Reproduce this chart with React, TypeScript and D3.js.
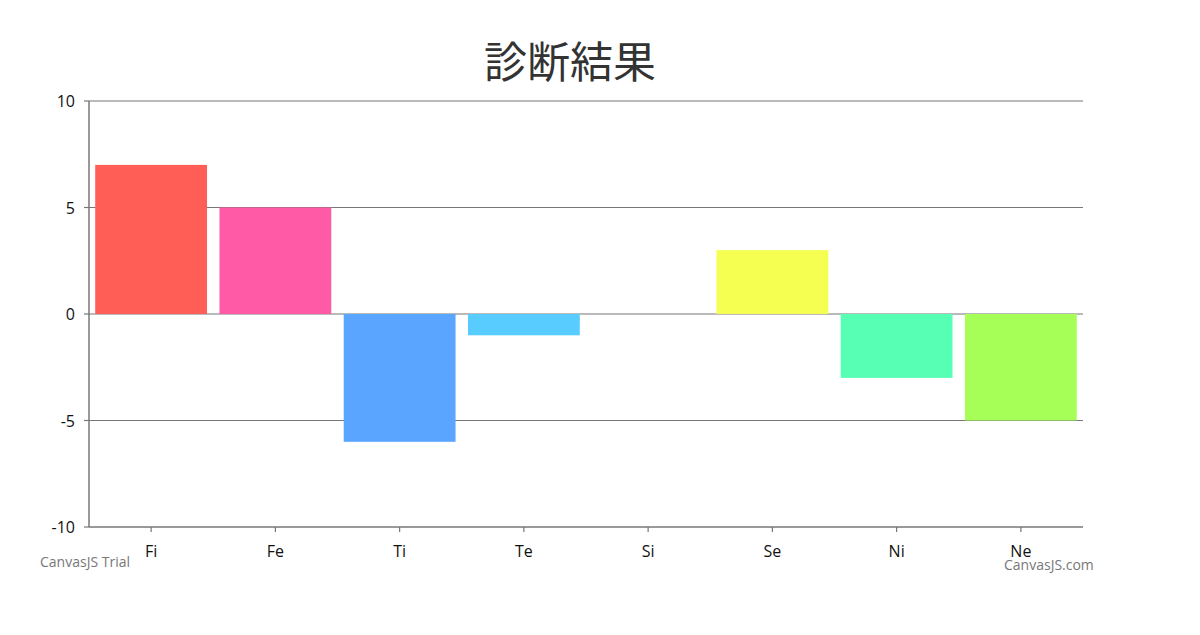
import React from "react";
import * as d3 from "d3";

const categories = ["Fi", "Fe", "Ti", "Te", "Si", "Se", "Ni", "Ne"];
const values = [7, 5, -6, -1, 0, 3, -3, -5];
const colors = ["#FF5E57", "#FF5AA5", "#59A5FF", "#59CCFF", "#C8C8C8", "#F5FF52", "#57FFB5", "#A5FF57"];
const yTicks = [-10, -5, 0, 5, 10];
const title = "診断結果";

const W = 1200, H = 635;
const left = 89, right = 1083, top = 101, bottom = 527;

export default function App() {
  const x = d3.scaleBand<string>().domain(categories).range([left, right]).paddingInner(0.1).paddingOuter(0.05);
  const y = d3.scaleLinear().domain([-10, 10]).range([bottom, top]);
  const font = "'Noto Sans CJK JP', 'Open Sans', sans-serif";
  return (
    <svg width={W} height={H} style={{ position: "absolute", left: 0, top: 0, background: "#fff" }}>
      <text x={570} y={78} textAnchor="middle" fontSize={43} fill="#333" fontFamily={font}>{title}</text>
      {yTicks.map((t) => (
        <g key={t}>
          {t !== -10 && <line x1={left} x2={right} y1={y(t)} y2={y(t)} stroke="#777" strokeWidth={1.2} />}
          <line x1={left - 5} x2={left} y1={y(t)} y2={y(t)} stroke="#777" strokeWidth={1.2} />
          <text x={left - 14} y={y(t) + 6} textAnchor="end" fontSize={16} fill="#111" fontFamily="'Open Sans', sans-serif">{t}</text>
        </g>
      ))}
      {categories.map((c, i) => {
        const v = values[i];
        if (v === 0) return null;
        const y0 = y(0), y1 = y(v);
        return (
          <rect key={c} x={x(c)!} width={x.bandwidth()} y={Math.min(y0, y1)} height={Math.abs(y1 - y0)} fill={colors[i]} />
        );
      })}
      <line x1={left} x2={left} y1={top} y2={bottom} stroke="#777" strokeWidth={1.5} />
      <line x1={left} x2={right} y1={bottom} y2={bottom} stroke="#777" strokeWidth={1.5} />
      {categories.map((c) => {
        const cx = x(c)! + x.bandwidth() / 2;
        return (
          <g key={c}>
            <line x1={cx} x2={cx} y1={bottom} y2={bottom + 5} stroke="#777" strokeWidth={1.2} />
            <text x={cx} y={bottom + 30} textAnchor="middle" fontSize={16} fill="#111" fontFamily="'Open Sans', sans-serif">{c}</text>
          </g>
        );
      })}
      <text x={40} y={567} fontSize={14} fill="#777" fontFamily="'Open Sans', sans-serif">CanvasJS Trial</text>
      <text x={1004} y={570} fontSize={14} fill="#777" fontFamily="'Open Sans', sans-serif">CanvasJS.com</text>
    </svg>
  );
}
